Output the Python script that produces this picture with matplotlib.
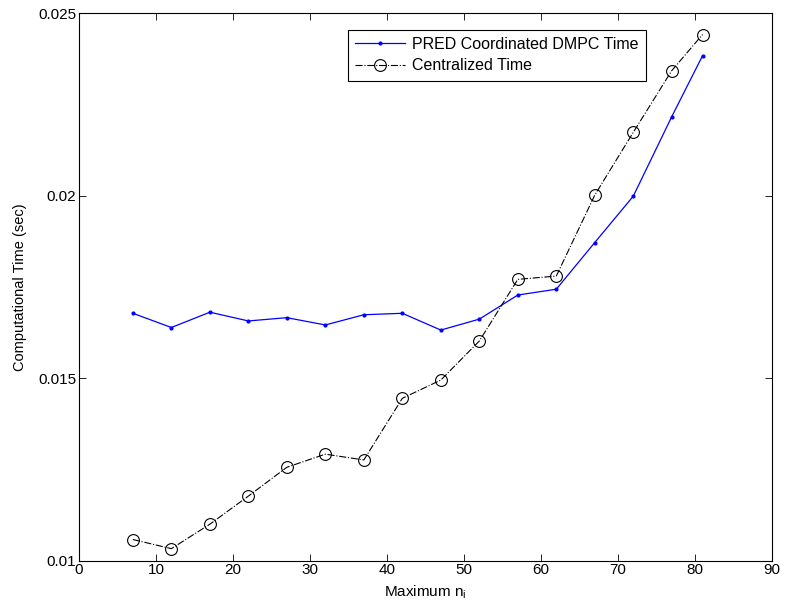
import matplotlib
matplotlib.use("Agg")
import matplotlib.pyplot as plt

plt.rcParams.update({
    "font.family": "Liberation Sans",
    "font.size": 11,
    "xtick.direction": "in",
    "ytick.direction": "in",
    "xtick.top": True,
    "ytick.right": True,
    "axes.linewidth": 0.8,
})

# Donnees
max_ni = [7, 12, 17, 22, 27, 32, 37, 42, 47, 52, 57, 62, 67, 72, 77, 81]
t_dmpc = [0.01678, 0.01639, 0.01681, 0.01657, 0.01666, 0.01646, 0.01674, 0.01678,
          0.01632, 0.01662, 0.01728, 0.01744, 0.01872, 0.01999, 0.02217, 0.02384]
t_central = [0.01058, 0.01033, 0.01100, 0.01177, 0.01256, 0.01292, 0.01276, 0.01445,
             0.01495, 0.01602, 0.01771, 0.01780, 0.02002, 0.02174, 0.02343, 0.02442]

fig = plt.figure(figsize=(7.86, 6.07), dpi=100)
ax = fig.add_axes([0.1005, 0.0763, 0.8815, 0.9017])

ax.plot(max_ni, t_dmpc, '-', color='blue', marker='.', markersize=4, linewidth=0.9,
        label='PRED Coordinated DMPC Time')
ax.plot(max_ni, t_central, '-.', color='black', marker='o', markersize=8.5,
        markerfacecolor='none', linewidth=0.8, markeredgewidth=0.8,
        label='Centralized Time')

ax.set_xlim(0, 90)
ax.set_ylim(0.01, 0.025)
ax.set_xticks(range(0, 91, 10))
ax.set_yticks([0.01, 0.015, 0.02, 0.025])
ax.set_yticklabels(['0.01', '0.015', '0.02', '0.025'])
ax.tick_params(length=5, width=0.6, pad=2, labelsize=11)

ax.set_xlabel('Maximum n$_\\mathregular{i}$', labelpad=4, fontsize=11)
ax.set_ylabel('Computational Time (sec)', labelpad=8, fontsize=10.5)

leg = ax.legend(loc='upper right', bbox_to_anchor=(0.818, 0.97), borderaxespad=0,
                frameon=True, fancybox=False, edgecolor='black', framealpha=1,
                fontsize=11.5, handlelength=3.1, borderpad=0.45, labelspacing=0.4,
                handletextpad=0.45)
leg.get_frame().set_linewidth(0.8)

fig.savefig('out.png', dpi=100)
